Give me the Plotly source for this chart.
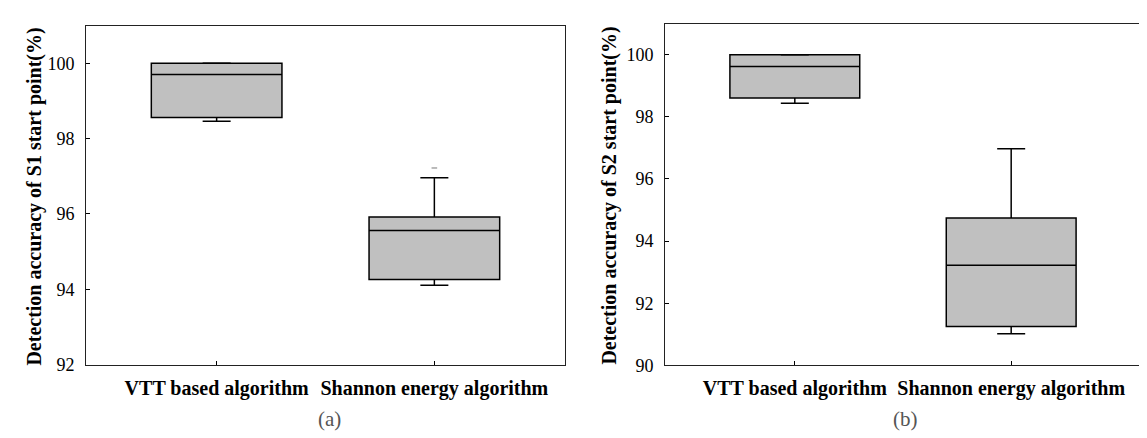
import plotly.graph_objects as go

categories = ["VTT based algorithm", "Shannon energy algorithm"]

# Panel (a): S1 start point
s1_q1 = [98.56, 94.26]
s1_median = [99.70, 95.56]
s1_q3 = [100.0, 95.92]
s1_lower = [98.46, 94.11]
s1_upper = [100.0, 96.96]
s1_outlier_x = ["Shannon energy algorithm"]
s1_outlier_y = [97.22]

# Panel (b): S2 start point
s2_q1 = [98.61, 91.25]
s2_median = [99.62, 93.22]
s2_q3 = [100.0, 94.74]
s2_lower = [98.44, 91.02]
s2_upper = [100.0, 96.97]

y1_ticks = [92, 94, 96, 98, 100]
y2_ticks = [90, 92, 94, 96, 98, 100]

FONT = "Liberation Serif"
BOX_FILL = "#c0c0c0"

fig = go.Figure()


def add_panel(xa, ya, q1, med, q3, lo, hi):
    fig.add_trace(go.Box(
        x=categories, q1=q1, median=med, q3=q3, lowerfence=lo, upperfence=hi,
        width=0.6, fillcolor=BOX_FILL, line=dict(color="black", width=1.5),
        boxpoints=False, whiskerwidth=0, showlegend=False, hoverinfo="skip",
        xaxis=xa, yaxis=ya,
    ))
    # whisker caps
    fig.add_trace(go.Scatter(
        x=categories + categories, y=list(hi) + list(lo), mode="markers",
        marker=dict(symbol="line-ew", size=20, line=dict(color="black", width=1.5)),
        showlegend=False, hoverinfo="skip", xaxis=xa, yaxis=ya,
    ))


add_panel("x", "y", s1_q1, s1_median, s1_q3, s1_lower, s1_upper)
add_panel("x2", "y2", s2_q1, s2_median, s2_q3, s2_lower, s2_upper)

fig.add_trace(go.Scatter(
    x=s1_outlier_x, y=s1_outlier_y, mode="markers",
    marker=dict(symbol="line-ew", size=4, line=dict(color="#777777", width=1)),
    showlegend=False, hoverinfo="skip", xaxis="x", yaxis="y",
))

axis_common = dict(showline=True, mirror=True, linecolor="#222222", linewidth=1,
                   ticks="inside", ticklen=4, tickcolor="black", showgrid=False,
                   zeroline=False)

xfont = dict(family=FONT, size=20, color="black", weight=700)
yfont = dict(family=FONT, size=18, color="black")
tfont = dict(family=FONT, size=20, color="black", weight=700)
cfont = dict(family=FONT, size=21, color="#555555")

fig.update_layout(
    width=1147, height=438,
    margin=dict(l=0, r=0, t=0, b=0),
    paper_bgcolor="white", plot_bgcolor="white",
    xaxis=dict(domain=[78 / 1147, 557 / 1147], anchor="y", type="category",
               range=[-0.6, 1.6], tickfont=xfont, ticklabelstandoff=5, **axis_common),
    yaxis=dict(domain=[1 - 365 / 438, 1 - 18 / 438], anchor="x", range=[92, 101],
               tickvals=y1_ticks, tickfont=yfont, ticklabelstandoff=7, **axis_common),
    xaxis2=dict(domain=[657 / 1147, 1133 / 1147], anchor="y2", type="category",
                range=[-0.6, 1.6], tickfont=xfont, ticklabelstandoff=5, **axis_common),
    yaxis2=dict(domain=[1 - 365.7 / 438, 1 - 16 / 438], anchor="x2", range=[90, 101],
                tickvals=y2_ticks, tickfont=yfont, ticklabelstandoff=7, **axis_common),
    annotations=[
        dict(text="Detection accuracy of S1 start point(%)", textangle=-90,
             x=27 / 1147, y=1 - 193 / 438, xref="paper", yref="paper",
             xanchor="center", yanchor="middle", showarrow=False, font=tfont),
        dict(text="Detection accuracy of S2 start point(%)", textangle=-90,
             x=602 / 1147, y=1 - 192 / 438, xref="paper", yref="paper",
             xanchor="center", yanchor="middle", showarrow=False, font=tfont),
        dict(text="(a)", x=321 / 1147, y=1 - 421 / 438, xref="paper", yref="paper",
             xanchor="center", yanchor="middle", showarrow=False, font=cfont),
        dict(text="(b)", x=898 / 1147, y=1 - 421 / 438, xref="paper", yref="paper",
             xanchor="center", yanchor="middle", showarrow=False, font=cfont),
    ],
)

fig.write_html("out.html")
